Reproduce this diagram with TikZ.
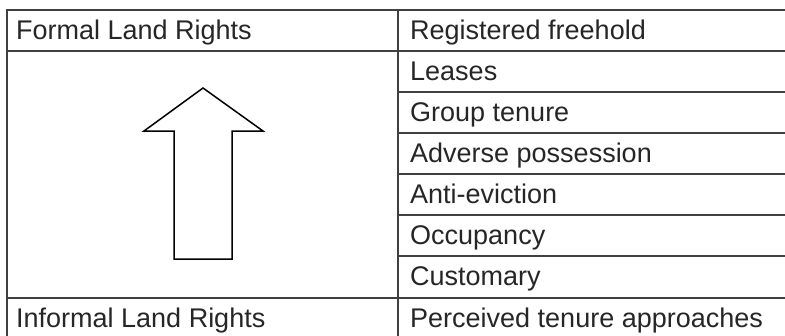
\documentclass[tikz,border=0pt]{standalone}
\usepackage{fontspec}
\setmainfont{Liberation Sans}
\begin{document}
\begin{tikzpicture}[x=1pt,y=-1pt,
    rule/.style={draw=black!75,line width=2pt},
    cell/.style={anchor=base west,inner sep=0pt,text=black!85,font=\fontsize{27}{32}\selectfont}]
    \useasboundingbox (0,0) rectangle (785,335);
    \clip (0,0) rectangle (785,335);
    % table rules
    \draw[rule] (6.5,345) -- (6.5,10) -- (795,10);
    \draw[rule] (398,10) -- (398,345);
    \draw[rule] (6.5,51) -- (795,51);
    \draw[rule] (398,92) -- (795,92);
    \draw[rule] (398,133) -- (795,133);
    \draw[rule] (398,174) -- (795,174);
    \draw[rule] (398,215) -- (795,215);
    \draw[rule] (398,256) -- (795,256);
    \draw[rule] (6.5,298) -- (795,298);
    % left column
    \node[cell] (formal) at (16,39.5) {Formal Land Rights};
    \node[cell] (informal) at (16,327) {Informal Land Rights};
    \draw[line width=1.5pt,line join=miter] (203,88) -- (263,131) -- (232,131) -- (232,259)
    -- (174,259) -- (174,131) -- (144,131) -- cycle;
    % right column
    \node[cell] (freehold) at (410,39.5) {Registered freehold};
    \node[cell] (leases) at (410,80.5) {Leases};
    \node[cell] (group) at (410,121.5) {Group tenure};
    \node[cell] (adverse) at (410,162.5) {Adverse possession};
    \node[cell] (antievict) at (410,203.5) {Anti-eviction};
    \node[cell] (occupancy) at (410,244.5) {Occupancy};
    \node[cell] (customary) at (410,285.5) {Customary};
    \node[cell] (perceived) at (410,327) {Perceived tenure approaches};
\end{tikzpicture}
\end{document}
